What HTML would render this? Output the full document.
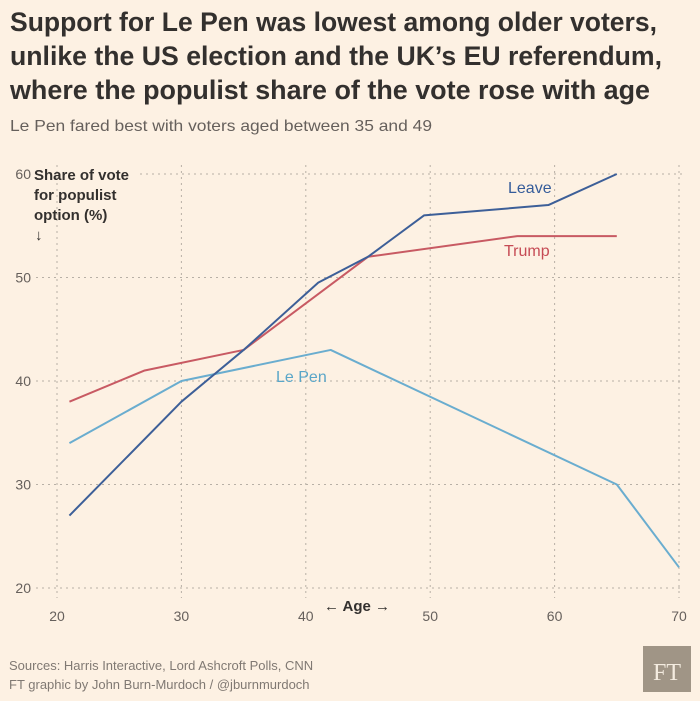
<!DOCTYPE html>
<html><head><meta charset="utf-8"><style>
html,body{margin:0;padding:0;background:#fdf1e3;}
svg{display:block;font-family:"Liberation Sans",sans-serif;}
</style></head><body>
<svg id="chart" width="700" height="701" viewBox="0 0 700 701">
<rect width="700" height="701" fill="#fdf1e3"/>
<g fill="#33302e" font-weight="bold" font-size="27">
<text x="10" y="31" textLength="647" lengthAdjust="spacingAndGlyphs">Support for Le Pen was lowest among older voters,</text>
<text x="10" y="65" textLength="652" lengthAdjust="spacingAndGlyphs">unlike the US election and the UK’s EU referendum,</text>
<text x="10" y="99" textLength="640" lengthAdjust="spacingAndGlyphs">where the populist share of the vote rose with age</text>
</g>
<text x="10" y="131" font-size="16" fill="#66605c" textLength="422" lengthAdjust="spacingAndGlyphs">Le Pen fared best with voters aged between 35 and 49</text>
<g id="grid"></g>
<g id="axes"></g>
<g fill="#33302e" font-size="15" font-weight="bold">
<text x="34" y="180">Share of vote</text>
<text x="34" y="200">for populist</text>
<text x="34" y="220">option (%)</text>
<text x="35" y="240">↓</text>
</g>
<text x="357" y="611" font-size="15" font-weight="bold" fill="#33302e" text-anchor="middle">← Age →</text>
<g id="series"></g>
<g font-size="16">
<text x="508" y="193" fill="#355c9a">Leave</text>
<text x="504" y="256" fill="#c64b55">Trump</text>
<text x="276" y="382" fill="#5aa6c8">Le Pen</text>
</g>
<g font-size="13" fill="#807973">
<text x="9" y="670">Sources: Harris Interactive, Lord Ashcroft Polls, CNN</text>
<text x="9" y="689">FT graphic by John Burn-Murdoch / @jburnmurdoch</text>
</g>
<g>
<rect x="643" y="646" width="48" height="46" fill="#a09586"/>
<text x="667" y="680" font-family="Liberation Serif,serif" font-size="24" fill="#f4ece0" text-anchor="middle">FT</text>
</g>
</svg>
<script>
const xTicks=[20,30,40,50,60,70];
const yTicks=[20,30,40,50,60];
const leaveAges=[21,30,35,41,45,49.5,59.5,65];
const leaveVals=[27,38,43,49.5,52,56,57,60];
const trumpAges=[21,27,35,45,57,65];
const trumpVals=[38,41,43,52,54,54];
const lepenAges=[21,30,42,65,70];
const lepenVals=[34,40,43,30,22];
const NS='http://www.w3.org/2000/svg';
function xs(v){return 57+(v-20)*12.44;}
function ys(v){return 588-(v-20)*10.35;}
const grid=document.getElementById('grid'),axes=document.getElementById('axes'),series=document.getElementById('series');
function mk(tag,attrs,parent){const e=document.createElementNS(NS,tag);for(const k in attrs)e.setAttribute(k,attrs[k]);parent.appendChild(e);return e;}
xTicks.forEach(t=>{
  const l=mk('line',{x1:xs(t),x2:xs(t),y1:165,y2:598,stroke:'#b8b0a6','stroke-width':1,'stroke-dasharray':'2 4'},grid);
  
  
  const tx=mk('text',{x:xs(t),y:621,'font-size':14,fill:'#66605c','text-anchor':'middle'},axes);
  tx.textContent=t;
  
  
});
yTicks.forEach(t=>{
  const x1=t===60?140:36;
  const l=mk('line',{x1:x1,x2:684,y1:ys(t),y2:ys(t),stroke:'#b8b0a6','stroke-width':1,'stroke-dasharray':'2 4'},grid);
  
  
  const tx=mk('text',{x:31,y:ys(t)+5,'font-size':14,fill:'#66605c','text-anchor':'end'},axes);
  tx.textContent=t;
  
  
});
function line(ages,vals,color,name){
  const p=mk('polyline',{points:ages.map((a,i)=>xs(a)+','+ys(vals[i])).join(' '),fill:'none',stroke:color,'stroke-width':2,'stroke-linejoin':'round'},series);
  
  
}
line(lepenAges,lepenVals,'#6aadcf','line-le-pen');
line(trumpAges,trumpVals,'#c85a63','line-trump');
line(leaveAges,leaveVals,'#3d5f98','line-leave');
</script>
</body></html>
